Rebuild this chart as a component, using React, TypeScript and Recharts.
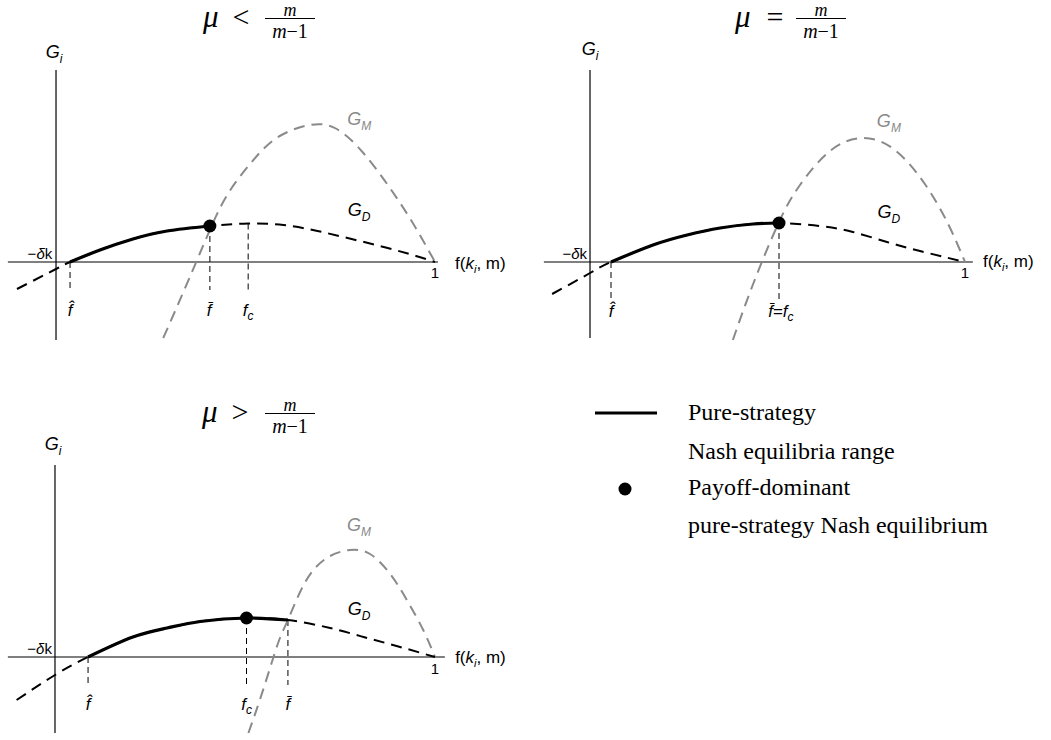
import type { ReactNode } from "react"
import { LineChart, Line, XAxis, YAxis, ReferenceLine, ReferenceDot } from "recharts"

const SANS = "'Liberation Sans', Arial, Helvetica, sans-serif"
const SERIF = "'Liberation Serif', 'Times New Roman', serif"
const GREY = "#8a8a8a"

type Pt = { x: number; y: number }

// mu < m/(m-1)
const gdLess: Pt[] = [
  { x: -0.103, y: -0.27 }, { x: 0, y: -0.07 }, { x: 0.037, y: 0 }, { x: 0.116, y: 0.12 },
  { x: 0.203, y: 0.23 }, { x: 0.293, y: 0.31 }, { x: 0.406, y: 0.36 }, { x: 0.507, y: 0.385 },
  { x: 0.6, y: 0.37 }, { x: 0.69, y: 0.31 }, { x: 0.78, y: 0.23 }, { x: 0.87, y: 0.145 },
  { x: 0.95, y: 0.06 }, { x: 1, y: 0 },
]
const gmLess: Pt[] = [
  { x: 0.283, y: -0.76 }, { x: 0.336, y: -0.3 }, { x: 0.38, y: 0.09 }, { x: 0.406, y: 0.32 },
  { x: 0.45, y: 0.66 }, { x: 0.512, y: 0.98 }, { x: 0.582, y: 1.24 }, { x: 0.67, y: 1.37 },
  { x: 0.741, y: 1.33 }, { x: 0.811, y: 1.09 }, { x: 0.881, y: 0.74 }, { x: 0.943, y: 0.38 },
  { x: 1, y: 0 },
]

// mu = m/(m-1)
const gdEqual: Pt[] = [
  { x: -0.101, y: -0.32 }, { x: 0, y: -0.11 }, { x: 0.056, y: 0 }, { x: 0.168, y: 0.17 },
  { x: 0.259, y: 0.27 }, { x: 0.347, y: 0.34 }, { x: 0.435, y: 0.38 }, { x: 0.504, y: 0.39 },
  { x: 0.613, y: 0.36 }, { x: 0.701, y: 0.3 }, { x: 0.792, y: 0.2 }, { x: 0.88, y: 0.11 },
  { x: 1, y: 0 },
]
const gmEqual: Pt[] = [
  { x: 0.381, y: -0.78 }, { x: 0.435, y: -0.22 }, { x: 0.504, y: 0.4 }, { x: 0.56, y: 0.77 },
  { x: 0.64, y: 1.11 }, { x: 0.728, y: 1.24 }, { x: 0.813, y: 1.12 }, { x: 0.893, y: 0.78 },
  { x: 0.955, y: 0.38 }, { x: 1, y: 0 },
]

// mu > m/(m-1)
const gdGreater: Pt[] = [
  { x: -0.101, y: -0.43 }, { x: 0, y: -0.18 }, { x: 0.087, y: 0 }, { x: 0.205, y: 0.2 },
  { x: 0.295, y: 0.29 }, { x: 0.382, y: 0.355 }, { x: 0.504, y: 0.39 }, { x: 0.613, y: 0.37 },
  { x: 0.724, y: 0.29 }, { x: 0.812, y: 0.2 }, { x: 0.899, y: 0.11 }, { x: 1, y: 0 },
]
const gmGreater: Pt[] = [
  { x: 0.509, y: -0.76 }, { x: 0.539, y: -0.43 }, { x: 0.57, y: -0.06 }, { x: 0.592, y: 0.19 },
  { x: 0.614, y: 0.38 }, { x: 0.645, y: 0.65 }, { x: 0.68, y: 0.87 }, { x: 0.724, y: 1.01 },
  { x: 0.776, y: 1.07 }, { x: 0.829, y: 1.03 }, { x: 0.882, y: 0.83 }, { x: 0.926, y: 0.57 },
  { x: 0.969, y: 0.27 }, { x: 1, y: 0 },
]

// key points: Nash range [f-hat, f-bar], payoff-dominant equilibrium, dashed drop lines
const nashLess = [0.037, 0.406]
const nashEqual = [0.056, 0.504]
const nashGreater = [0.087, 0.613]
const dotLess: Pt = { x: 0.406, y: 0.36 }
const dotEqual: Pt = { x: 0.504, y: 0.39 }
const dotGreater: Pt = { x: 0.504, y: 0.39 }
const dropsLess: Pt[] = [{ x: 0.037, y: 0 }, { x: 0.406, y: 0.36 }, { x: 0.507, y: 0.385 }]
const dropsEqual: Pt[] = [{ x: 0.056, y: 0 }, { x: 0.504, y: 0.39 }]
const dropsGreater: Pt[] = [{ x: 0.087, y: 0 }, { x: 0.504, y: 0.39 }, { x: 0.613, y: 0.37 }]

const legendItems = ["Pure-strategy", "Nash equilibria range", "Payoff-dominant", "pure-strategy Nash equilibrium"]

const Y_DOMAIN: [number, number] = [-0.83, 2.27]

const Sub = ({ c, d = 5, size = 12 }: { c: string; d?: number; size?: number }) => (
  <tspan fontStyle="italic" fontSize={size} dy={d}>{c}</tspan>
)
const It = ({ c }: { c: string }) => <tspan fontStyle="italic">{c}</tspan>

type Tag = { x: number; y: number; anchor?: "start" | "middle" | "end"; size?: number; color?: string; body: ReactNode }

const commonTags = (gi: Pt, dk: Pt, one: Pt, fk: Pt, gm: Pt, gd: Pt): Tag[] => [
  { ...gi, size: 18, body: <><It c="G" /><Sub c="i" /></> },
  { ...dk, anchor: "end", size: 15, body: <>−<It c="δ" />k</> },
  { ...one, size: 15, body: "1" },
  { ...fk, anchor: "start", size: 17, body: <>f(<It c="k" /><Sub c="i" d={4} size={11} /><tspan dy={-4}>,  m)</tspan></> },
  { ...gm, size: 18, color: GREY, body: <><It c="G" /><Sub c="M" /></> },
  { ...gd, size: 18, body: <><It c="G" /><Sub c="D" /></> },
]

const fHat = <It c={"f\u0302"} />
const fBar = <It c={"f\u0304"} />
const fC = <><It c="f" /><Sub c="c" d={4} /></>

type PanelProps = {
  left: number; top: number; width: number; xDomain: [number, number]
  hAxis: [number, number]; vAxis: [number, number]
  gd: Pt[]; gm: Pt[]; nash: number[]; dot: Pt; drops: Pt[]; dropEnd: number; tags: Tag[]
}

function Panel(p: PanelProps) {
  const solid = p.gd.filter((d) => d.x >= p.nash[0] - 1e-9 && d.x <= p.nash[1] + 1e-9)
  return (
    <div style={{ position: "absolute", left: p.left, top: p.top }}>
      <LineChart width={p.width} height={310} margin={{ top: 0, right: 0, bottom: 0, left: 0 }}>
        <XAxis type="number" dataKey="x" domain={p.xDomain} allowDataOverflow hide />
        <YAxis type="number" dataKey="y" domain={Y_DOMAIN} allowDataOverflow hide />
        <ReferenceLine segment={[{ x: p.hAxis[0], y: 0 }, { x: p.hAxis[1], y: 0 }]} stroke="#000" strokeWidth={1.2} />
        <ReferenceLine segment={[{ x: 0, y: p.vAxis[0] }, { x: 0, y: p.vAxis[1] }]} stroke="#000" strokeWidth={1.2} />
        {p.drops.map((d) => (
          <ReferenceLine key={d.x} segment={[{ x: d.x, y: d.y }, { x: d.x, y: p.dropEnd }]} stroke="#000" strokeWidth={1} strokeDasharray="6 4" />
        ))}
        <Line data={p.gm} dataKey="y" type="natural" stroke={GREY} strokeWidth={2} strokeDasharray="11 7" dot={false} activeDot={false} isAnimationActive={false} />
        <Line data={p.gd} dataKey="y" type="natural" stroke="#000" strokeWidth={2} strokeDasharray="11 7" dot={false} activeDot={false} isAnimationActive={false} />
        <Line data={solid} dataKey="y" type="natural" stroke="#000" strokeWidth={3.2} dot={false} activeDot={false} isAnimationActive={false} />
        <ReferenceDot x={p.dot.x} y={p.dot.y} r={6.5} fill="#000" stroke="none" />
        {p.tags.map((t, i) => (
          <ReferenceDot
            key={i}
            x={t.x}
            y={t.y}
            r={0}
            shape={(s: any) => (
              <text
                x={s.cx}
                y={s.cy}
                textAnchor={t.anchor ?? "middle"}
                fontFamily={SANS}
                fontSize={t.size ?? 17}
                fill={t.color ?? "#000"}
              >
                {t.body}
              </text>
            )}
          />
        ))}
      </LineChart>
    </div>
  )
}

function Title({ x, y, rel, relX, fracX }: { x: number; y: number; rel: string; relX: number; fracX: number }) {
  return (
    <g fontFamily={SERIF} fill="#000">
      <text x={x} y={y + 27} fontSize={31} fontStyle="italic">μ</text>
      <text x={relX} y={y + 27} fontSize={30} textAnchor="middle">{rel}</text>
      <text x={fracX} y={y + 16} fontSize={18} fontStyle="italic" textAnchor="middle">m</text>
      <line x1={fracX - 25} x2={fracX + 25} y1={y + 18.5} y2={y + 18.5} stroke="#000" strokeWidth={1} />
      <text x={fracX} y={y + 38} fontSize={20} textAnchor="middle"><tspan fontStyle="italic">m</tspan>−1</text>
    </g>
  )
}

export default function App() {
  return (
    <div style={{ position: "absolute", left: 0, top: 0, width: 1051, height: 740, background: "#fff" }}>
      <Panel
        left={0} top={35} width={520} xDomain={[-0.1478, 1.2243]}
        hAxis={[-0.127, 1.008]} vAxis={[-0.78, 1.92]}
        gd={gdLess} gm={gmLess} nash={nashLess} dot={dotLess} drops={dropsLess} dropEnd={-0.28}
        tags={[
          ...commonTags({ x: -0.005, y: 2.04 }, { x: -0.01, y: 0.03 }, { x: 1, y: -0.16 }, { x: 1.053, y: -0.07 }, { x: 0.8, y: 1.37 }, { x: 0.8, y: 0.46 }),
          { x: 0.037, y: -0.54, body: fHat },
          { x: 0.404, y: -0.54, body: fBar },
          { x: 0.507, y: -0.54, body: fC },
        ]}
      />
      <Panel
        left={535} top={35} width={515} xDomain={[-0.1467, 1.2267]}
        hAxis={[-0.123, 1.021]} vAxis={[-0.76, 1.92]}
        gd={gdEqual} gm={gmEqual} nash={nashEqual} dot={dotEqual} drops={dropsEqual} dropEnd={-0.38}
        tags={[
          ...commonTags({ x: 0, y: 2.07 }, { x: -0.008, y: 0.03 }, { x: 1, y: -0.16 }, { x: 1.048, y: -0.05 }, { x: 0.797, y: 1.35 }, { x: 0.797, y: 0.44 }),
          { x: 0.056, y: -0.545, body: fHat },
          { x: 0.509, y: -0.545, body: <>{fBar}<tspan>=</tspan>{fC}</> },
        ]}
      />
      <Panel
        left={0} top={430} width={520} xDomain={[-0.1447, 1.2237]}
        hAxis={[-0.124, 1.026]} vAxis={[-0.76, 1.92]}
        gd={gdGreater} gm={gmGreater} nash={nashGreater} dot={dotGreater} drops={dropsGreater} dropEnd={-0.28}
        tags={[
          ...commonTags({ x: -0.005, y: 2.07 }, { x: -0.008, y: 0.03 }, { x: 1, y: -0.17 }, { x: 1.053, y: -0.06 }, { x: 0.8, y: 1.26 }, { x: 0.8, y: 0.42 }),
          { x: 0.087, y: -0.53, body: fHat },
          { x: 0.504, y: -0.53, body: fC },
          { x: 0.613, y: -0.53, body: fBar },
        ]}
      />
      <svg width={1051} height={740} style={{ position: "absolute", left: 0, top: 0, pointerEvents: "none" }}>
        <Title x={203} y={0} rel="<" relX={241} fracX={290} />
        <Title x={735} y={0} rel="=" relX={775} fracX={821} />
        <Title x={202} y={395} rel=">" relX={240} fracX={290} />
        <line x1={595} x2={657} y1={413} y2={413} stroke="#000" strokeWidth={3} />
        <circle cx={625} cy={489} r={6.5} fill="#000" />
        {legendItems.map((s, i) => (
          <text key={s} x={688} y={[420, 459, 495, 533][i]} fontFamily={SERIF} fontSize={24} fill="#000">{s}</text>
        ))}
      </svg>
    </div>
  )
}
